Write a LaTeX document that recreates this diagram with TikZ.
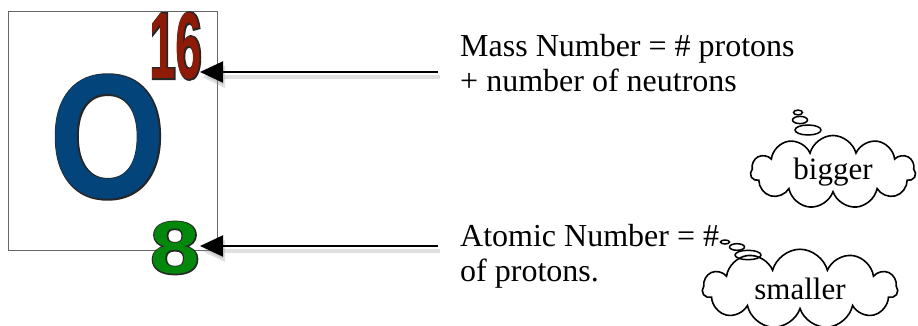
\documentclass[tikz,border=0pt]{standalone}
\usepackage{fontspec}
\setmainfont{Liberation Serif}
\newfontfamily\numfont{Liberation Sans}
\usetikzlibrary{arrows.meta,shapes.symbols}
\definecolor{oxblue}{HTML}{03447A}
\definecolor{massred}{HTML}{8E1A08}
\definecolor{atomgreen}{HTML}{04880C}
% a glyph with a dark edge: emboldened black copy under the coloured one
\newcommand\outlined[3]{\makebox[0pt][l]{\addfontfeatures{FakeBold=#3}\textcolor{black!85}{#2}}\textcolor{#1}{#2}}
\tikzset{
  pointer/.style={line width=2pt, -{Triangle[length=23pt,width=21pt]}},
  pointershadow/.style={line width=4pt, draw=black!40, opacity=.3,
    -{Triangle[length=23pt,width=21pt]}, transform canvas={shift={(2pt,-5pt)}}},
  label/.style={anchor=base west, align=left, inner sep=0pt, font=\fontsize{32}{35}\selectfont},
  thought/.style={cloud, draw, line width=1.6pt, cloud puffs=11, aspect=2.4,
    inner sep=0pt, font=\fontsize{31}{35}\selectfont},
  bubble/.style={draw, line width=1.5pt}
}
\begin{document}
\begin{tikzpicture}[x=1pt, y=-1pt]
\useasboundingbox (0,0) rectangle (918,326);
\draw[black!60, line width=1pt] (8,12) rectangle (217,250);
% element symbol and numbers
\node[inner sep=0pt, xscale=.85, font=\numfont\bfseries\fontsize{176}{176}\selectfont] (sym) at (108,137) {\outlined{oxblue}{O}{1.6}};
\node[inner sep=0pt, xscale=.5, font=\numfont\bfseries\fontsize{94}{94}\selectfont] (mass) at (176,46) {\outlined{massred}{16}{3.5}};
\node[inner sep=0pt, xscale=1.2, font=\numfont\bfseries\fontsize{74}{74}\selectfont] (atom) at (175,248) {\outlined{atomgreen}{8}{3.2}};
% labels
\node[label] (masstext) at (460,92) {Mass Number = \# protons\\+ number of neutrons};
\node[label] (atomtext) at (460,281) {Atomic Number = \#\\of protons.};
% arrows
\coordinate (masstail) at (438,72);
\coordinate (masstip) at (200,72);
\coordinate (atomtail) at (438,246);
\coordinate (atomtip) at (200,246);
\draw[pointershadow] (masstail) -- (masstip);
\draw[pointershadow] (atomtail) -- (atomtip);
\draw[pointer] (masstail) -- (masstip);
\draw[pointer] (atomtail) -- (atomtip);
% thought clouds
\node[thought, minimum width=165pt, minimum height=73pt] (big) at (833,172) {bigger};
\node[thought, minimum width=195pt, minimum height=70pt] (small) at (800,289) {smaller};
\draw[bubble] (808,130) ellipse [x radius=13, y radius=5];
\draw[bubble] (800,120) ellipse [x radius=7.5, y radius=3.6];
\draw[bubble] (798,112.5) ellipse [x radius=4.5, y radius=2.4];
\draw[bubble] (748,255) ellipse [x radius=13, y radius=4.7];
\draw[bubble] (737,247) ellipse [x radius=7.5, y radius=3.3];
\draw[bubble] (725,242) ellipse [x radius=4.5, y radius=2];
\end{tikzpicture}
\end{document}
